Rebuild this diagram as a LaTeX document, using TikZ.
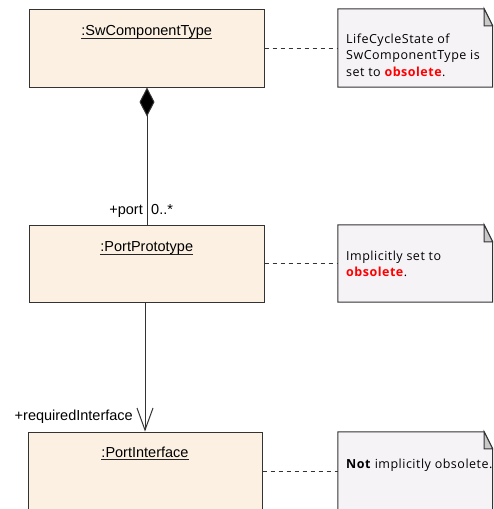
\documentclass[tikz,border=0pt]{standalone}
\usepackage{fontspec}
\setmainfont{Liberation Sans}
\newfontfamily\notefont[LetterSpace=4]{Open Sans}
\usetikzlibrary{arrows.meta,calc}
\definecolor{boxfill}{HTML}{FBF0E2}
\definecolor{notefill}{HTML}{F6F3F7}
\definecolor{foldfill}{HTML}{C9C9C9}
\definecolor{edge}{HTML}{333333}
\definecolor{obsred}{HTML}{FF0000}
\tikzset{
  umlbox/.style={draw=edge, fill=boxfill, line width=1pt, inner sep=0pt, minimum width=234.5pt, minimum height=78pt},
  notebox/.style={draw=none, inner sep=0pt, minimum width=154.5pt, minimum height=78pt},
  notetext/.style={font=\notefont\fontsize{12.5}{16.3}\selectfont, align=left, inner sep=0pt, anchor=base west},
  titletext/.style={font=\fontsize{14.5}{17}\selectfont, inner sep=0pt, anchor=base},
  rolelabel/.style={font=\fontsize{14.5}{17}\selectfont, inner sep=0pt},
  conn/.style={draw=edge, line width=1pt},
  noteconn/.style={draw=edge, line width=1pt, dash pattern=on 4pt off 4pt},
  ul/.style={draw=black!85, line width=1pt}
}
\newcommand{\drawnote}[1]{%
  \draw[draw=edge, fill=notefill, line width=1pt]
    (#1.north west) -- ([xshift=-8.5pt]#1.north east) -- ([yshift=-17pt]#1.north east)
    -- (#1.south east) -- (#1.south west) -- cycle;
  \draw[draw=edge, fill=foldfill, line width=1pt]
    ([xshift=-8.5pt]#1.north east) -- ([xshift=-8.5pt,yshift=-17pt]#1.north east)
    -- ([yshift=-17pt]#1.north east) -- cycle;
}
\begin{document}
\begin{tikzpicture}[x=1pt,y=-1pt]
\clip (0,0) rectangle (493,509);
\fill[white] (0,0) rectangle (493,509);

% class boxes
\node[umlbox] (swc) at (146.75,48) {};
\node[umlbox, minimum height=77pt] (pp) at (146.75,263.5) {};
\node[umlbox, minimum width=234pt] (pi) at (145,471) {};

\node[titletext] (swct) at (146.75,35.5) {:SwComponentType};
\node[titletext] (ppt) at (146.75,251.5) {:PortPrototype};
\node[titletext] (pit) at (145,457) {:PortInterface};
\foreach \t in {swct,ppt,pit}
  \draw[ul] ([yshift=-2.6pt]\t.base west) -- ([yshift=-2.6pt]\t.base east);

% notes
\node[notebox] (n1) at (415.25,48) {};
\node[notebox, minimum height=77pt] (n2) at (415.25,263.5) {};
\node[notebox] (n3) at (415.25,471) {};
\drawnote{n1}
\drawnote{n2}
\drawnote{n3}

\node[notetext] (n1t) at (346,76) {LifeCycleState of\\SwComponentType is\\set to \textcolor{obsred}{\textbf{obsolete}}.};
\node[notetext] (n2t) at (346,276.5) {Implicitly set to\\\textcolor{obsred}{\textbf{obsolete}}.};
\node[notetext] (n3t) at (346,468) {\textbf{Not} implicitly obsolete.};

% note connectors
\draw[noteconn] (swc.east) -- (n1.west);
\draw[noteconn] (pp.east) -- (n2.west);
\draw[noteconn] (pi.east) -- (n3.west);

% composition
\coordinate (cpTop) at ([xshift=0.25pt]swc.south);
\coordinate (cpBot) at ([xshift=0.25pt]pp.north);
\draw[conn, {Diamond[length=29pt,width=15pt,fill=black]}-] (cpTop) -- (cpBot);
\node[rolelabel, anchor=base east] (portlbl) at (143,214) {+port};
\node[rolelabel, anchor=base west] (portmul) at (151,214) {0..*};

% association
\coordinate (asTop) at (pp.south -| pi.north);
\draw[conn, -{Straight Barb[length=22pt,width=16pt,line width=1pt]}] (asTop) -- (pi.north);
\node[rolelabel, anchor=base east] (reqlbl) at (133,420) {+requiredInterface};
\end{tikzpicture}
\end{document}
